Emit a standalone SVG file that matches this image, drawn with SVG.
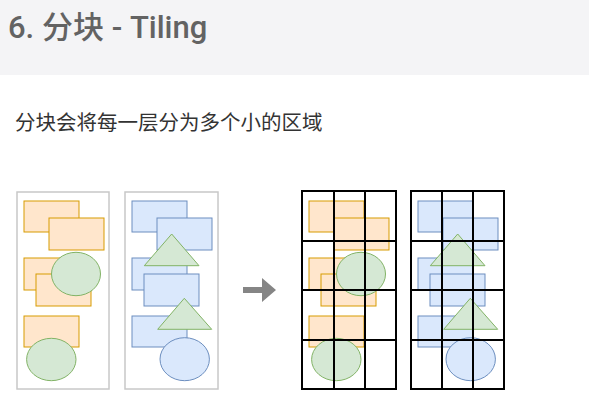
<svg xmlns="http://www.w3.org/2000/svg" width="589" height="411" viewBox="0 0 589 411">
<style>
.title{font-family:Roboto,"Liberation Sans","Noto Sans CJK SC",sans-serif;font-size:31px;font-weight:500;fill:#636363}
.sub{font-family:"Noto Sans CJK SC","Liberation Sans",sans-serif;font-size:20.5px;fill:#333333}
.frame{fill:#ffffff;stroke:#c8c8c8;stroke-width:1.5}
.o{fill:#ffe6cc;stroke:#d79b00;stroke-width:1}
.g{fill:#d5e8d4;stroke:#82b366;stroke-width:1}
.b{fill:#dae8fc;stroke:#6c8ebf;stroke-width:1}
.grid{fill:none;stroke:#000000;stroke-width:2}
</style>
<defs>
<g id="setA">
<rect class="o" x="24" y="201" width="55" height="31"/>
<rect class="o" x="49" y="218" width="55" height="32"/>
<rect class="o" x="24" y="258" width="55" height="32"/>
<rect class="o" x="36" y="274" width="55" height="32"/>
<ellipse class="g" cx="76" cy="274" rx="24.5" ry="21.7"/>
<rect class="o" x="24" y="316" width="55" height="31"/>
<ellipse class="g" cx="51.3" cy="359.5" rx="24.7" ry="21.2"/>
</g>
<g id="setB">
<rect class="b" x="132" y="201" width="55" height="31"/>
<rect class="b" x="157" y="218" width="55" height="32"/>
<rect class="b" x="132" y="258" width="55" height="32"/>
<polygon class="g" points="171.7,234 199,265.7 144.3,265.7"/>
<rect class="b" x="144" y="274" width="55" height="32"/>
<rect class="b" x="132" y="316" width="55" height="31"/>
<polygon class="g" points="184.3,298.3 211.7,329.3 157.7,329.3"/>
<ellipse class="b" cx="184.7" cy="359.2" rx="24.7" ry="21.5"/>
</g>
</defs>
<rect x="0" y="0" width="589" height="75" fill="#f4f4f6"/>
<rect x="0" y="75" width="589" height="336" fill="#ffffff"/>
<text class="title" x="8" y="38">6. 分块 - Tiling</text>
<text class="sub" x="15" y="130">分块会将每一层分为多个小的区域</text>
<g id="layer1">
<rect class="frame" x="17" y="192" width="92" height="197"/>
<use href="#setA"/>
</g>
<g id="layer2">
<rect class="frame" x="125" y="192" width="93" height="197"/>
<use href="#setB"/>
</g>
<g id="tiled1">
<use href="#setA" transform="translate(285,0)"/>
<rect class="grid" x="302" y="191" width="94" height="198"/>
<path class="grid" d="M334,191V389M365,191V389M302,241H396M302,290H396M302,340H396"/>
</g>
<g id="tiled2">
<use href="#setB" transform="translate(286,0)"/>
<rect class="grid" x="411" y="191" width="93" height="198"/>
<path class="grid" d="M442,191V389M473,191V389M411,241H504M411,290H504M411,340H504"/>
</g>
<g id="connectors">
<polygon points="243,287 262,287 262,278 276,290 262,302 262,293 243,293" fill="#858585"/>
</g>
</svg>
